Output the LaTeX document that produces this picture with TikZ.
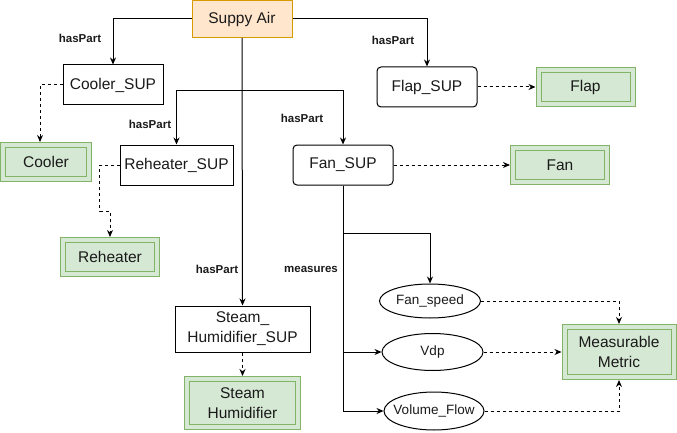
\documentclass[tikz,border=0pt]{standalone}
\usepackage{fontspec}
\setmainfont{Liberation Sans}
\usetikzlibrary{arrows.meta,shapes.geometric}
\definecolor{gfill}{HTML}{D5E8D4}
\definecolor{gline}{HTML}{82B366}
\definecolor{ofill}{HTML}{FFE6CC}
\definecolor{oline}{HTML}{D79B00}
\definecolor{txt}{HTML}{1A1A1A}
\tikzset{
  box/.style={draw=black, line width=1pt, fill=white, inner sep=0pt, align=center, font=\fontsize{15.5}{18}\selectfont, text=txt},
  rbox/.style={box, rounded corners=4pt},
  gbox/.style={draw=gline, line width=1pt, double=gfill, double distance=4pt, fill=gfill, inner sep=0pt, outer sep=3pt, align=center, font=\fontsize{15.5}{18}\selectfont, text=txt},
  ell/.style={ellipse, draw=black, line width=1pt, fill=white, inner sep=0pt, font=\fontsize{13.5}{16}\selectfont, text=txt},
  lbl/.style={font=\bfseries\fontsize{11.5}{13}\selectfont, text=txt, inner sep=0pt},
  conn/.style={line width=1pt, -{Stealth[length=7pt,width=6pt]}},
  dconn/.style={conn, dashed, dash pattern=on 3pt off 3pt},
}
\begin{document}
\begin{tikzpicture}[x=1pt,y=-1pt]
\useasboundingbox (0,0) rectangle (677,433);
% nodes
\node[box, draw=oline, fill=ofill, minimum width=100, minimum height=37] (air) at (242,19) {Suppy Air};
\node[box, minimum width=100, minimum height=40] (coolsup) at (113,85) {Cooler\_SUP};
\node[box, minimum width=113, minimum height=40] (reheatsup) at (176.5,165) {Reheater\_SUP};
\node[rbox, minimum width=100, minimum height=40] (fansup) at (343,165) {Fan\_SUP};
\node[rbox, minimum width=100, minimum height=40] (flapsup) at (427,87) {Flap\_SUP};
\node[box, minimum width=135, minimum height=46, font=\fontsize{15.5}{20}\selectfont] (steamsup) at (242.5,329) {Steam\_\\Humidifier\_SUP};

\node[gbox, minimum width=86, minimum height=34] (cool) at (46,162) {Cooler};
\node[gbox, minimum width=94, minimum height=34] (flap) at (585.5,87) {Flap};
\node[gbox, minimum width=94, minimum height=34] (fan) at (560,165) {Fan};
\node[gbox, minimum width=94, minimum height=34] (reheat) at (110,257) {Reheater};
\node[gbox, minimum width=111, minimum height=48, font=\fontsize{15.5}{20}\selectfont] (steam) at (242.5,403) {Steam\\Humidifier};
\node[gbox, minimum width=109, minimum height=50, font=\fontsize{15.5}{20}\selectfont] (mm) at (619,352) {Measurable\\Metric};

\node[ell, minimum width=101, minimum height=34] (fspeed) at (430,301) {Fan\_speed};
\node[ell, minimum width=101, minimum height=37] (vdp) at (432.5,352) {Vdp};
\node[ell, inner xsep=-7pt, minimum width=100, minimum height=38] (vflow) at (434,411) {Volume\_Flow};

% labels
\node[lbl] (l1) at (80,38) {hasPart};
\node[lbl] (l2) at (393,40) {hasPart};
\node[lbl] (l3) at (150,124) {hasPart};
\node[lbl] (l4) at (302,118) {hasPart};
\node[lbl] (l5) at (217,269) {hasPart};
\node[lbl] (l6) at (311,269) {measures};

% connectors
\coordinate (jr) at (242,91);
\coordinate (jf) at (343,233);
\draw[conn] (air.west) -| (coolsup.north);
\draw[conn] (air.east) -| (flapsup.north);
\draw[conn] (air.south) -- (steamsup.north);
\draw[conn] (jr) -| (reheatsup.north);
\draw[conn] (jr) -| (fansup.north);
\draw[conn] (fansup.south) -- (jf) -| (fspeed.north);
\draw[conn] (fansup.south) |- (vdp.west);
\draw[conn] (fansup.south) |- (vflow.west);

\draw[dconn] (coolsup.west) -| ([xshift=-6pt]cool.north);
\draw[dconn] (reheatsup.west) -- ++(-20,0) -- ++(0,46) -| (reheat.north);
\draw[dconn] (steamsup.south) -- (steam.north);
\draw[dconn] (flapsup.east) -- (flap.west);
\draw[dconn] (fansup.east) -- (fan.west);
\draw[dconn] (fspeed.east) -| (mm.north);
\draw[dconn] (vdp.east) -- (mm.west);
\draw[dconn] (vflow.east) -| (mm.south);
\end{tikzpicture}
\end{document}
